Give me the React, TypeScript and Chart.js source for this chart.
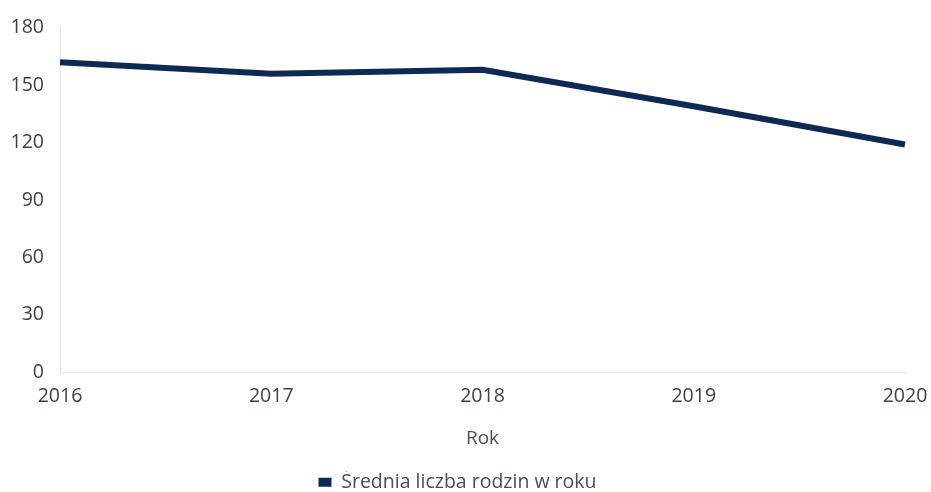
import React, { useEffect, useRef } from "react";
import { Chart, registerables } from "chart.js";

Chart.register(...registerables);

const years = ["2016", "2017", "2018", "2019", "2020"];
const families = [162, 156, 158, 139, 119];
const seriesLabel = "Średnia liczba rodzin w roku";
const xTitle = "Rok";

const legendShift = {
  id: "legendShift",
  afterLayout(chart: any) {
    if (chart.legend) {
      chart.legend.left += 5;
      chart.legend.right += 5;
    }
  },
};

export default function App() {
  const ref = useRef<HTMLCanvasElement | null>(null);

  useEffect(() => {
    document.body.style.margin = "0";
    const ctx = ref.current;
    if (!ctx) return;
    const font = "'Open Sans', 'Noto Sans', sans-serif";
    const chart = new Chart(ctx, {
      type: "line",
      data: {
        labels: years,
        datasets: [
          {
            label: seriesLabel,
            data: families,
            borderColor: "#0e2a52",
            backgroundColor: "#0e2a52",
            borderWidth: 6,
            pointRadius: 0,
            tension: 0,
            borderJoinStyle: "miter",
            borderCapStyle: "butt",
          },
        ],
      },
      plugins: [legendShift],
      options: {
        responsive: false,
        animation: false,
        maintainAspectRatio: false,
        layout: { padding: { top: 23, right: 26, left: 0, bottom: -10 } },
        plugins: {
          legend: {
            position: "bottom",
            labels: {
              boxWidth: 13,
              boxHeight: 9,
              color: "#4a4d5c",
              font: { family: font, size: 19.5 },
              padding: 1,
              generateLabels: (c: any) =>
                Chart.defaults.plugins.legend.labels
                  .generateLabels(c)
                  .map((l: any) => ({ ...l, lineWidth: 0 })),
            },
          },
          tooltip: { enabled: false },
        },
        scales: {
          x: {
            offset: false,
            grid: { display: false, drawTicks: false },
            border: { display: true, color: "#e6e6ea", width: 1 },
            ticks: {
              color: "#3c3f4e",
              font: { family: font, size: 19.5 },
              padding: 12,
              maxRotation: 0,
            },
            title: {
              display: true,
              text: xTitle,
              color: "#4a4d5c",
              font: { family: font, size: 19 },
              padding: { top: 7, bottom: 22 },
            },
            afterFit: (scale: any) => {
              scale.paddingRight = 0;
            },
          },
          y: {
            min: 0,
            max: 180,
            grid: { display: false, drawTicks: false },
            border: { display: true, color: "#e6e6ea", width: 1 },
            ticks: {
              stepSize: 30,
              color: "#3c3f4e",
              font: { family: font, size: 19.5 },
              padding: 16,
            },
            afterFit: (scale: any) => {
              scale.width = 60;
            },
          },
        },
      },
    });
    return () => chart.destroy();
  }, []);

  return <canvas ref={ref} width={931} height={492} style={{ display: "block" }} />;
}
